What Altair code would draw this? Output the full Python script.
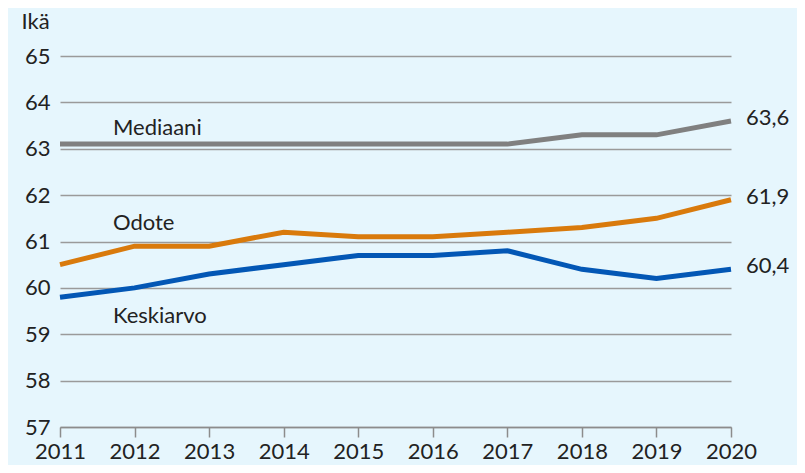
import altair as alt
import pandas as pd

years = [2011, 2012, 2013, 2014, 2015, 2016, 2017, 2018, 2019, 2020]
mediaani = [63.1, 63.1, 63.1, 63.1, 63.1, 63.1, 63.1, 63.3, 63.3, 63.6]
odote = [60.5, 60.9, 60.9, 61.2, 61.1, 61.1, 61.2, 61.3, 61.5, 61.9]
keskiarvo = [59.8, 60.0, 60.3, 60.5, 60.7, 60.7, 60.8, 60.4, 60.2, 60.4]

series_names = ["Mediaani", "Odote", "Keskiarvo"]
series_colors = ["#808080", "#D97A0C", "#0357B5"]
# series name label positions (year, value)
name_x = [2011.71, 2011.71, 2011.71]
name_y = [63.45, 61.4, 59.4]

FONT = "Lato"
FS = 22
BG = "#E6F6FD"

rows = []
for name, vals in zip(series_names, [mediaani, odote, keskiarvo]):
    for y, v in zip(years, vals):
        rows.append({"year": y, "value": v, "series": name})
df = pd.DataFrame(rows)

ends = pd.DataFrame({
    "year": [years[-1]] * 3,
    "value": [mediaani[-1], odote[-1], keskiarvo[-1]],
    "label": [f"{v:.1f}".replace(".", ",") for v in [mediaani[-1], odote[-1], keskiarvo[-1]]],
})
names = pd.DataFrame({"x": name_x, "y": name_y, "label": series_names})

xscale = alt.Scale(domain=[2011, 2020], nice=False, zero=False)
yscale = alt.Scale(domain=[57, 65], nice=False, zero=False)

lines = alt.Chart(df).mark_line(strokeWidth=5, strokeJoin="miter").encode(
    x=alt.X("year:Q", scale=xscale,
            axis=alt.Axis(values=years, format="d", title=None, grid=False,
                          domainColor="#8C8C8C", domainWidth=1.5,
                          tickColor="#8C8C8C", tickSize=10, tickWidth=1.5,
                          labelFont=FONT, labelFontSize=FS, labelColor="#222222",
                          labelPadding=4, labelFlush=False)),
    y=alt.Y("value:Q", scale=yscale,
            axis=alt.Axis(values=list(range(57, 66)), title="Ikä", titleAngle=0,
                          titleAlign="left", titleBaseline="middle",
                          titleX=-39, titleY=-35, titleFont=FONT, titleFontSize=FS,
                          titleFontWeight="normal", titleColor="#222222",
                          grid=True, gridColor="#9A9A9A", gridWidth=1.3,
                          domain=False, ticks=False, labelPadding=10,
                          labelFont=FONT, labelFontSize=FS, labelColor="#222222")),
    color=alt.Color("series:N", scale=alt.Scale(domain=series_names, range=series_colors), legend=None),
)

end_text = alt.Chart(ends).mark_text(align="left", baseline="middle", dx=15, dy=-3,
                                     font=FONT, fontSize=FS, color="#222222").encode(
    x=alt.X("year:Q", scale=xscale), y=alt.Y("value:Q", scale=yscale), text="label:N")

name_text = alt.Chart(names).mark_text(align="left", baseline="middle",
                                       font=FONT, fontSize=FS, color="#222222").encode(
    x=alt.X("x:Q", scale=xscale), y=alt.Y("y:Q", scale=yscale), text="label:N")

chart = (lines + end_text + name_text).properties(
    width=671, height=371,
    background=BG,
    padding={"left": 52, "top": 48, "right": 66, "bottom": 38},
    autosize=alt.AutoSizeParams(type="none"),
).configure_view(stroke=None)

chart.save("out.html", embed_options={"renderer": "svg", "actions": False})
